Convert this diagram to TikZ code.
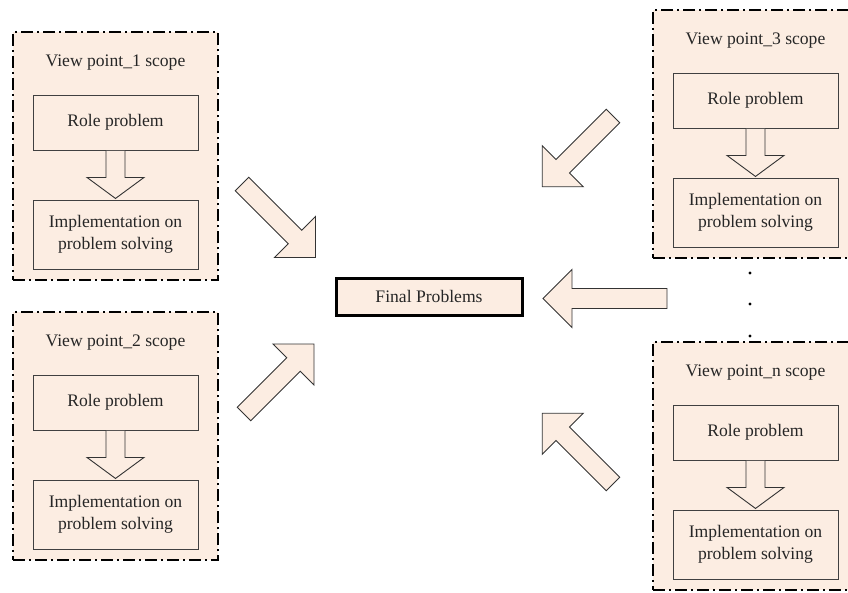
\documentclass[tikz,border=0pt]{standalone}
\usepackage{fontspec}
\setmainfont{Liberation Serif}
\usetikzlibrary{calc}
\definecolor{peach}{RGB}{252,237,226}
\tikzset{
 scopebox/.style={draw=black, line width=1.8pt, dash pattern=on 12pt off 4pt on 2pt off 4pt, fill=peach, minimum width=205pt, minimum height=248pt, inner sep=0pt},
 innerbox/.style={draw=black!75, line width=0.9pt, fill=peach, minimum width=165pt, inner sep=0pt, align=center, text=black!85, font=\fontsize{17.6}{22}\selectfont},
 titletext/.style={text=black!85, inner sep=0pt, font=\fontsize{17.6}{22}\selectfont},
 hollow/.style={draw=black!80, line width=0.9pt, fill=peach, line join=miter},
 finalbox/.style={draw=black, line width=3pt, fill=peach, minimum width=186pt, minimum height=37pt, inner sep=0pt, text=black!85, font=\fontsize{17.6}{22}\selectfont},
 dotnode/.style={circle, fill=black, inner sep=0pt, minimum size=3.4pt},
}
\newcommand{\vpscope}[4]{%
 \node[scopebox] (#1) at (#2,#3+124) {};
 \node[titletext] (#1t) at (#2,#3+31) {View point\_#4 scope};
 \node[innerbox, minimum height=55pt] (#1r) at (#2,#3+90.5) {Role problem};
 \node[innerbox, minimum height=69pt] (#1i) at (#2,#3+202.5) {Implementation on\\problem solving};
 \draw[hollow, shift={(#1r.south)}] (-9.5,0.5) -- (-9.5,27) -- (-28.5,27) -- (0,48) -- (28.5,27) -- (9.5,27) -- (9.5,0.5);
}
\newcommand{\bigarrow}[4]{%
 \draw[hollow, shift={(#1)}, rotate=#2] (0,-#4) -- (#3-29,-#4) -- (#3-29,-29) -- (#3,0) -- (#3-29,29) -- (#3-29,#4) -- (0,#4) -- cycle;
}
\begin{document}
\begin{tikzpicture}[x=1pt,y=-1pt]
\useasboundingbox (0,0) rectangle (848,592);
\clip (0,0) rectangle (848,592);
\vpscope{s1}{115.5}{32}{1}
\vpscope{s2}{115.5}{312}{2}
\vpscope{s3}{755.5}{10}{3}
\vpscope{sn}{755.5}{342}{n}
\node[finalbox] (fp) at (429,296.5) {Final Problems};
\node[dotnode] (d1) at (750,273) {};
\node[dotnode] (d2) at (750,304) {};
\node[dotnode] (d3) at (750,336) {};
\coordinate (a1) at (242,184);
\coordinate (a2) at (244,414);
\coordinate (a3) at (613,116);
\coordinate (a4) at (613,484);
\coordinate (a5) at (667,298.5);
\bigarrow{a1}{-45}{104}{9.5}
\bigarrow{a2}{45}{99}{9.5}
\bigarrow{a3}{-135}{100}{9.5}
\bigarrow{a4}{135}{100}{9.5}
\bigarrow{a5}{180}{124}{10}
\end{tikzpicture}
\end{document}
